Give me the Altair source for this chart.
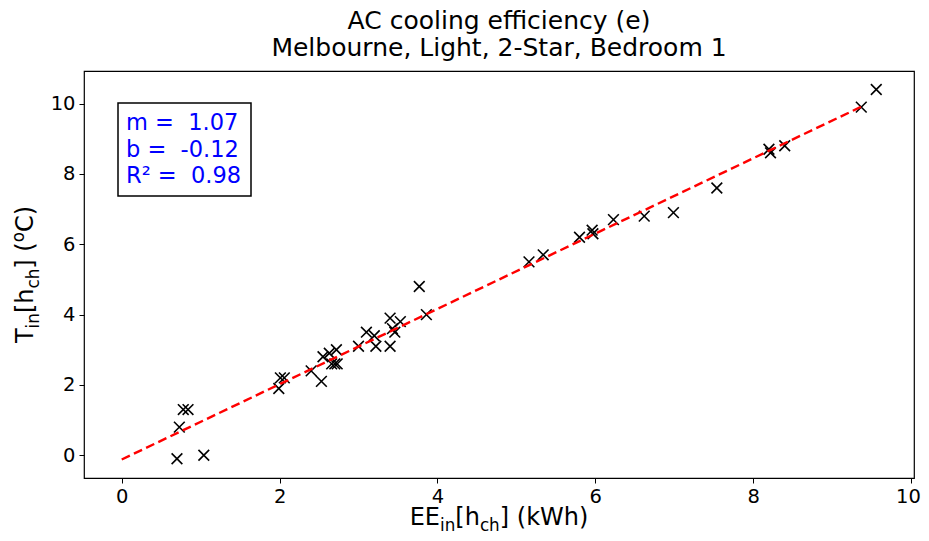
import altair as alt
import pandas as pd

# ---- data ----
ee_kwh = [0.70, 1.04, 0.73, 0.78, 0.84, 1.99, 2.01, 2.06, 2.40, 2.53, 2.55, 2.63,
          2.72, 2.66, 2.70, 2.73, 3.00, 3.10, 3.20, 3.22, 3.40, 3.40, 3.43, 3.46,
          3.53, 3.77, 3.86, 5.16, 5.34, 5.80, 5.96, 5.97, 6.23, 6.62, 6.99, 7.54,
          8.20, 8.22, 8.40, 9.37, 9.56]
t_in = [-0.10, 0.00, 0.80, 1.30, 1.30, 1.90, 2.20, 2.20, 2.40, 2.10, 2.80, 2.90,
        3.00, 2.60, 2.60, 2.60, 3.10, 3.50, 3.40, 3.10, 3.10, 3.90, 3.60, 3.50,
        3.80, 4.80, 4.00, 5.50, 5.70, 6.20, 6.40, 6.30, 6.70, 6.80, 6.90, 7.60,
        8.70, 8.60, 8.80, 9.90, 10.40]
fit_x = [0.0, 9.37]
fit_y = [-0.12, 9.91]
x_ticks = [0, 2, 4, 6, 8, 10]
y_ticks = [0, 2, 4, 6, 8, 10]
title_lines = ["AC cooling efficiency (e)", "Melbourne, Light, 2-Star, Bedroom 1"]
NB = "\u00a0"
stats_lines = ["m" + NB + "=" + NB + NB + "1.07",
               "b" + NB + "=" + NB + NB + "-0.12",
               "R\u00b2" + NB + "=" + NB + NB + "0.98"]
x_title_parts = [("EE", 0), ("in", 1), ("[h", 0), ("ch", 1), ("] (kWh)", 0)]
y_title_parts = [("T", 0), ("in", 1), ("[h", 0), ("ch", 1), ("] (", 0), ("o", 2), ("C)", 0)]

# ---- layout ----
W, H = 830, 407
FONT = "DejaVu Sans"
TICK_FS = 19.5
AX_FS = 24
SUB_FS = AX_FS * 0.7
TITLE_FS = 25
x_dom = [-0.478, 10.038]
y_dom = [-0.646, 10.926]

ADV = {"E": 0.632, "T": 0.611, "C": 0.698, "W": 0.989, "h": 0.634, "k": 0.579,
       "c": 0.550, "i": 0.278, "n": 0.634, "o": 0.612, "[": 0.390, "]": 0.390,
       "(": 0.390, ")": 0.390, " ": 0.318}


def text_w(s, fs):
    return sum(ADV.get(ch, 0.6) for ch in s) * fs


def piece_size(kind):
    return AX_FS if kind == 0 else SUB_FS


def piece_shift(kind):
    return {0: 0.0, 1: 6.0, 2: -9.0}[kind]


one = pd.DataFrame({"k": [0]})


def text_layer(txt, px, py, fs, align="left", angle=0, color="black"):
    return alt.Chart(one).mark_text(
        text=txt, font=FONT, fontSize=fs, align=align, baseline="alphabetic",
        angle=angle, color=color
    ).encode(x=alt.value(px), y=alt.value(py))


xs = alt.Scale(domain=x_dom, nice=False, zero=False)
ys = alt.Scale(domain=y_dom, nice=False, zero=False)
ax_common = dict(grid=False, domain=False, tickColor="black", tickSize=5,
                 tickWidth=1, labelFontSize=TICK_FS, labelColor="black",
                 labelFont=FONT, labelPadding=4, format="d", title=None)

pts = pd.DataFrame({"x": ee_kwh, "y": t_in})
X_PATH = "M -1 -1 L 1 1 M -1 1 L 1 -1"
points = alt.Chart(pts).mark_point(
    shape=X_PATH, size=115, filled=False, color="black", strokeWidth=1.6, opacity=1
).encode(
    x=alt.X("x:Q", scale=xs, axis=alt.Axis(
        values=x_ticks, labelOffset=alt.expr("datum.value == 10 ? -3 : 0"), **ax_common)),
    y=alt.Y("y:Q", scale=ys, axis=alt.Axis(values=y_ticks, **ax_common)),
)

fit = alt.Chart(pd.DataFrame({"x": fit_x, "y": fit_y})).mark_line(
    color="red", strokeWidth=2.4, strokeDash=[9, 4.5]
).encode(x=alt.X("x:Q", scale=xs), y=alt.Y("y:Q", scale=ys))

box = alt.Chart(one).mark_rect(fill="white", stroke="black", strokeWidth=1.5).encode(
    x=alt.value(34), x2=alt.value(167), y=alt.value(32), y2=alt.value(125)
)

layers = [points, fit, box]
for i, line in enumerate(stats_lines):
    layers.append(text_layer(line, 42, 59 + 26.5 * i, 22.5, color="#0000ff"))

# titles
layers.append(text_layer(title_lines[0], W / 2, -42, TITLE_FS, align="center"))
layers.append(text_layer(title_lines[1], W / 2, -15, TITLE_FS, align="center"))

# x-axis title with subscripts
tot = sum(text_w(t, piece_size(k)) for t, k in x_title_parts)
cx = W / 2 - tot / 2
for t, k in x_title_parts:
    layers.append(text_layer(t, cx, 454 + piece_shift(k), piece_size(k)))
    cx += text_w(t, piece_size(k))

# y-axis title (rotated) with subscripts
tot = sum(text_w(t, piece_size(k)) for t, k in y_title_parts)
cy = H / 2 + tot / 2
for t, k in y_title_parts:
    layers.append(text_layer(t, -51 + piece_shift(k), cy, piece_size(k), angle=270))
    cy -= text_w(t, piece_size(k))

chart = alt.layer(*layers).properties(
    width=W, height=H,
    autosize=alt.AutoSizeParams(type="none"),
    padding={"left": 76, "top": 63, "right": 7, "bottom": 55},
).configure_view(stroke="black", strokeWidth=1.2)

chart.save("out.html", embed_options={"renderer": "svg", "actions": False})
